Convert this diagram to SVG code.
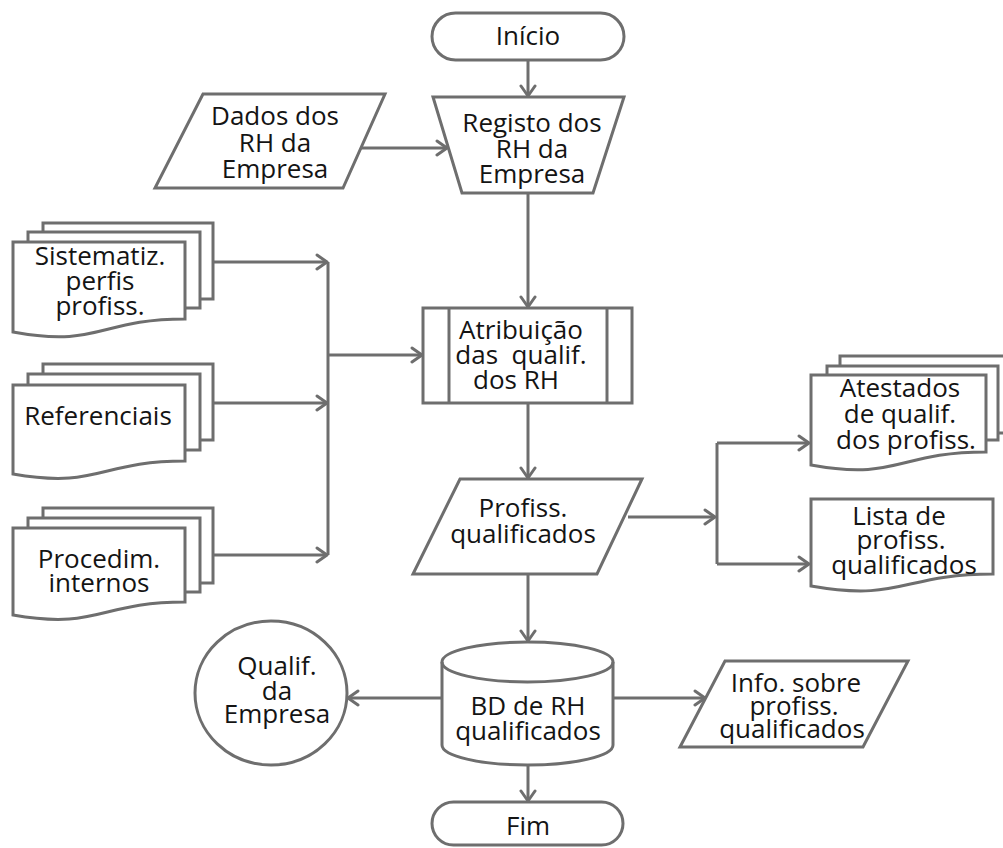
<svg xmlns="http://www.w3.org/2000/svg" width="1003" height="848" viewBox="0 0 1003 848">
<style>
.s{fill:#fff;stroke:#6e6e6e;stroke-width:3;stroke-linejoin:miter}
.c{fill:none;stroke:#6e6e6e;stroke-width:3}
text{font-family:"Open Sans","Noto Sans","DejaVu Sans",sans-serif;font-size:26px;fill:#141414;text-anchor:middle}
</style>
<defs>
<marker id="arr" markerUnits="userSpaceOnUse" markerWidth="16" markerHeight="18" viewBox="0 0 16 18" refX="13" refY="9" orient="auto">
<path d="M3,2 L13,9 L3,16" fill="none" stroke="#6e6e6e" stroke-width="3" stroke-linecap="round" stroke-linejoin="round"/>
</marker>
</defs>
<rect width="1003" height="848" fill="#fff"/>
<g id="connectors">
<line class="c" x1="528" y1="60" x2="528" y2="96" marker-end="url(#arr)"/>
<line class="c" x1="358" y1="148" x2="447" y2="148" marker-end="url(#arr)"/>
<line class="c" x1="528" y1="193" x2="528" y2="307" marker-end="url(#arr)"/>
<line class="c" x1="213" y1="262" x2="327" y2="262" marker-end="url(#arr)"/>
<line class="c" x1="213" y1="403" x2="327" y2="403" marker-end="url(#arr)"/>
<line class="c" x1="213" y1="555" x2="327" y2="555" marker-end="url(#arr)"/>
<line class="c" x1="328" y1="262" x2="328" y2="555"/>
<line class="c" x1="328" y1="355" x2="422" y2="355" marker-end="url(#arr)"/>
<line class="c" x1="528" y1="403" x2="528" y2="478" marker-end="url(#arr)"/>
<line class="c" x1="628" y1="517" x2="715" y2="517" marker-end="url(#arr)"/>
<line class="c" x1="717" y1="443" x2="717" y2="564"/>
<line class="c" x1="717" y1="443" x2="809" y2="443" marker-end="url(#arr)"/>
<line class="c" x1="717" y1="564" x2="809" y2="564" marker-end="url(#arr)"/>
<line class="c" x1="528" y1="574" x2="528" y2="641" marker-end="url(#arr)"/>
<line class="c" x1="442" y1="698" x2="348" y2="698" marker-end="url(#arr)"/>
<line class="c" x1="613" y1="698" x2="705" y2="698" marker-end="url(#arr)"/>
<line class="c" x1="528" y1="765" x2="528" y2="801" marker-end="url(#arr)"/>
</g>
<g id="inicio">
<rect class="s" x="432" y="13" width="192" height="47" rx="23.5"/>
<text x="528" y="45">Início</text>
</g>
<g id="dados">
<path class="s" d="M203,94 L385,94 L343,188 L155,188 Z"/>
<text x="275" y="125">Dados dos</text>
<text x="275" y="152">RH da</text>
<text x="275" y="178">Empresa</text>
</g>
<g id="registo">
<path class="s" d="M433,97 L624,97 L593,193 L462,193 Z"/>
<text x="532" y="132">Registo dos</text>
<text x="532" y="158">RH da</text>
<text x="532" y="183">Empresa</text>
</g>
<g id="sistematiz">
<rect class="s" x="43" y="223" width="170" height="76"/>
<rect class="s" x="28" y="232" width="172" height="76"/>
<path class="s" d="M13,242 H185 V319 C99,319 99,348 13,332 Z"/>
<text x="100" y="265">Sistematiz.</text>
<text x="100" y="290">perfis</text>
<text x="100" y="315">profiss.</text>
</g>
<g id="referenciais">
<rect class="s" x="43" y="364" width="170" height="76"/>
<rect class="s" x="28" y="374" width="172" height="76"/>
<path class="s" d="M13,385 H185 V461 C99,461 99,489 13,474 Z"/>
<text x="98" y="425">Referenciais</text>
</g>
<g id="procedim">
<rect class="s" x="43" y="508" width="170" height="75"/>
<rect class="s" x="28" y="518" width="172" height="74"/>
<path class="s" d="M13,528 H185 V602 C99,602 99,630 13,615 Z"/>
<text x="99" y="568">Procedim.</text>
<text x="99" y="592">internos</text>
</g>
<g id="atribuicao">
<rect class="s" x="423" y="308" width="209" height="95"/>
<line class="c" x1="449" y1="308" x2="449" y2="403"/>
<line class="c" x1="607" y1="308" x2="607" y2="403"/>
<text x="521" y="339">Atribuição</text>
<text x="521" y="364" style="white-space:pre">das  qualif.</text>
<text x="516" y="389">dos RH</text>
</g>
<g id="profiss">
<path class="s" d="M460,479 L642,479 L597,574 L413,574 Z"/>
<text x="523" y="517">Profiss.</text>
<text x="523" y="543">qualificados</text>
</g>
<g id="atestados">
<rect class="s" x="840" y="356" width="172" height="77"/>
<rect class="s" x="827" y="366" width="171" height="74"/>
<path class="s" d="M811,375 H986 V452 C898,452 898,481 811,465 Z"/>
<text x="900" y="397">Atestados</text>
<text x="900" y="423">de qualif.</text>
<text x="906" y="449">dos profiss.</text>
</g>
<g id="lista">
<path class="s" d="M811,499 H993 V574 C902,574 902,602 811,586 Z"/>
<text x="899" y="525">Lista de</text>
<text x="901" y="549">profiss.</text>
<text x="904" y="574">qualificados</text>
</g>
<g id="qualif">
<ellipse class="s" cx="271" cy="693" rx="76" ry="72"/>
<text x="277" y="675">Qualif.</text>
<text x="277" y="700">da</text>
<text x="277" y="723">Empresa</text>
</g>
<g id="bd">
<path class="s" d="M442,662 A85.5,20 0 0 1 613,662 V745 A85.5,20 0 0 1 442,745 Z"/>
<path class="c" d="M442,662 A85.5,20 0 0 0 613,662"/>
<text x="528" y="715">BD de RH</text>
<text x="528" y="740">qualificados</text>
</g>
<g id="info">
<path class="s" d="M725,661 L908,661 L863,747 L680,747 Z"/>
<text x="796" y="692">Info. sobre</text>
<text x="794" y="715">profiss.</text>
<text x="792" y="738">qualificados</text>
</g>
<g id="fim">
<rect class="s" x="432" y="802" width="191" height="43" rx="21.5"/>
<text x="528" y="835">Fim</text>
</g>
</svg>
